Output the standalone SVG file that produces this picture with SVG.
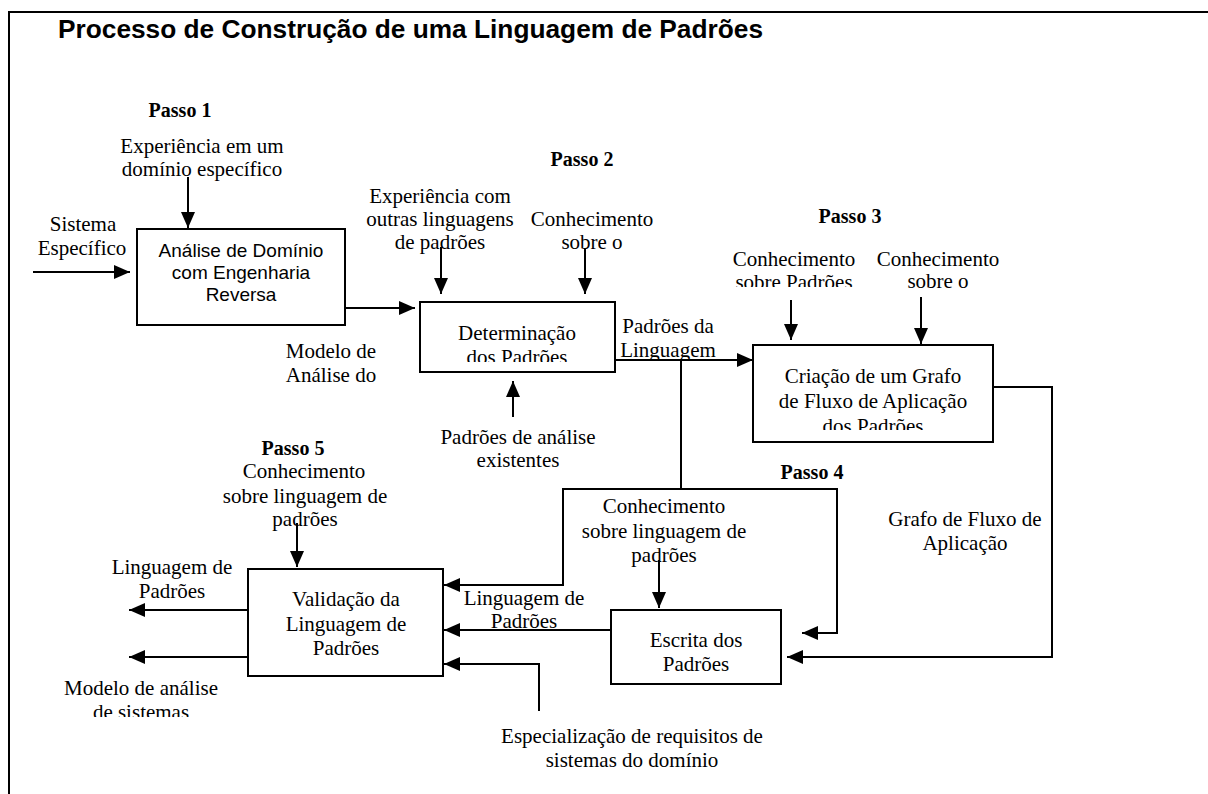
<svg xmlns="http://www.w3.org/2000/svg" width="1208" height="794" viewBox="0 0 1208 794">
<style>
.t{font-family:"Liberation Serif","Times New Roman",serif;font-size:21px;text-anchor:middle;fill:#000}
.p{font-family:"Liberation Serif","Times New Roman",serif;font-size:20px;font-weight:bold;text-anchor:middle;fill:#000}
.a{font-family:"Liberation Sans",Arial,sans-serif;font-size:19px;text-anchor:middle;fill:#000}
.h{font-family:"Liberation Sans",Arial,sans-serif;font-size:25px;font-weight:bold;fill:#000}
.box{fill:#fff;stroke:#000;stroke-width:2}
.c{fill:none;stroke:#000;stroke-width:2}
</style>
<defs>
<marker id="ah" markerUnits="userSpaceOnUse" markerWidth="16" markerHeight="14" refX="16" refY="7" orient="auto" viewBox="0 0 16 14">
<path d="M0,0 L16,7 L0,14 z" fill="#000"/>
</marker>
<clipPath id="k1"><rect x="700" y="250" width="200" height="37"/></clipPath>
<clipPath id="k2"><rect x="420" y="320" width="195" height="42"/></clipPath>
<clipPath id="k3"><rect x="615" y="310" width="120" height="49"/></clipPath>
<clipPath id="k4"><rect x="753" y="360" width="240" height="70"/></clipPath>
<clipPath id="k5"><rect x="40" y="670" width="220" height="47"/></clipPath>
</defs>
<rect width="1208" height="794" fill="#fff"/>
<path d="M9,794 V12 H1208" fill="none" stroke="#000" stroke-width="2"/>
<text class="h" x="58" y="38" textLength="705" lengthAdjust="spacingAndGlyphs">Processo de Construção de uma Linguagem de Padrões</text>

<g id="connectors">
<path class="c" d="M33,272 H130" marker-end="url(#ah)"/>
<path class="c" d="M188,177 V228" marker-end="url(#ah)"/>
<path class="c" d="M345,308 H415" marker-end="url(#ah)"/>
<path class="c" d="M441,247 V294" marker-end="url(#ah)"/>
<path class="c" d="M585,248 V294" marker-end="url(#ah)"/>
<path class="c" d="M513,417 V381" marker-end="url(#ah)"/>
<path class="c" d="M612,360 H753" marker-end="url(#ah)"/>
<path class="c" d="M791,300 V340" marker-end="url(#ah)"/>
<path class="c" d="M921,297 V344" marker-end="url(#ah)"/>
<path class="c" d="M681,360 V489 H563 V585 H444" marker-end="url(#ah)"/>
<path class="c" d="M681,489 H837 V633 H802" marker-end="url(#ah)"/>
<path class="c" d="M993,387 H1052 V657 H787" marker-end="url(#ah)"/>
<path class="c" d="M659,560 V608" marker-end="url(#ah)"/>
<path class="c" d="M611,630 H444" marker-end="url(#ah)"/>
<path class="c" d="M539,711 V664 H444" marker-end="url(#ah)"/>
<path class="c" d="M297,523 V567" marker-end="url(#ah)"/>
<path class="c" d="M248,610 H129" marker-end="url(#ah)"/>
<path class="c" d="M248,657 H129" marker-end="url(#ah)"/>
</g>

<g id="passos">
<text class="p" x="180" y="117">Passo 1</text>
<text class="p" x="582" y="166">Passo 2</text>
<text class="p" x="850" y="223">Passo 3</text>
<text class="p" x="812" y="479">Passo 4</text>
<text class="p" x="293" y="455">Passo 5</text>
</g>

<g id="analise-dominio">
<rect class="box" x="137" y="229" width="208" height="96"/>
<text class="a" x="241" y="257">Análise de Domínio</text>
<text class="a" x="241" y="279">com Engenharia</text>
<text class="a" x="241" y="301">Reversa</text>
</g>

<g id="determinacao">
<rect class="box" x="420" y="302" width="195" height="70"/>
<text class="t" x="517" y="340">Determinação</text>
<text class="t" x="517" y="364" clip-path="url(#k2)">dos Padrões</text>
</g>

<g id="criacao-grafo">
<rect class="box" x="753" y="345" width="240" height="97"/>
<text class="t" x="873" y="383">Criação de um Grafo</text>
<text class="t" x="873" y="408">de Fluxo de Aplicação</text>
<text class="t" x="873" y="433" clip-path="url(#k4)">dos Padrões</text>
</g>

<g id="escrita">
<rect class="box" x="611" y="610" width="170" height="74"/>
<text class="t" x="696" y="647">Escrita dos</text>
<text class="t" x="696" y="671">Padrões</text>
</g>

<g id="validacao">
<rect class="box" x="248" y="569" width="195" height="107"/>
<text class="t" x="346" y="606">Validação da</text>
<text class="t" x="346" y="631">Linguagem de</text>
<text class="t" x="346" y="655">Padrões</text>
</g>

<g id="labels">
<text class="t" x="202" y="153">Experiência em um</text>
<text class="t" x="202" y="176">domínio específico</text>
<text class="t" x="83" y="231">Sistema</text>
<text class="t" x="82" y="255">Específico</text>
<text class="t" x="331" y="358">Modelo de</text>
<text class="t" x="331" y="382">Análise do</text>
<text class="t" x="440" y="203">Experiência com</text>
<text class="t" x="440" y="226">outras linguagens</text>
<text class="t" x="440" y="249">de padrões</text>
<text class="t" x="592" y="226">Conhecimento</text>
<text class="t" x="592" y="249">sobre o</text>
<text class="t" x="668" y="333">Padrões da</text>
<text class="t" x="668" y="357" clip-path="url(#k3)">Linguagem</text>
<text class="t" x="518" y="444">Padrões de análise</text>
<text class="t" x="518" y="467">existentes</text>
<text class="t" x="794" y="266">Conhecimento</text>
<text class="t" x="794" y="289" clip-path="url(#k1)">sobre Padrões</text>
<text class="t" x="938" y="266">Conhecimento</text>
<text class="t" x="938" y="288">sobre o</text>
<text class="t" x="965" y="526">Grafo de Fluxo de</text>
<text class="t" x="965" y="550">Aplicação</text>
<text class="t" x="664" y="513">Conhecimento</text>
<text class="t" x="664" y="538">sobre linguagem de</text>
<text class="t" x="664" y="562">padrões</text>
<text class="t" x="524" y="605">Linguagem de</text>
<text class="t" x="524" y="628">Padrões</text>
<text class="t" x="632" y="743">Especialização de requisitos de</text>
<text class="t" x="632" y="767">sistemas do domínio</text>
<text class="t" x="304" y="478">Conhecimento</text>
<text class="t" x="305" y="503">sobre linguagem de</text>
<text class="t" x="305" y="526">padrões</text>
<text class="t" x="172" y="574">Linguagem de</text>
<text class="t" x="172" y="598">Padrões</text>
<text class="t" x="141" y="695">Modelo de análise</text>
<text class="t" x="141" y="719" clip-path="url(#k5)">de sistemas</text>
</g>
</svg>
